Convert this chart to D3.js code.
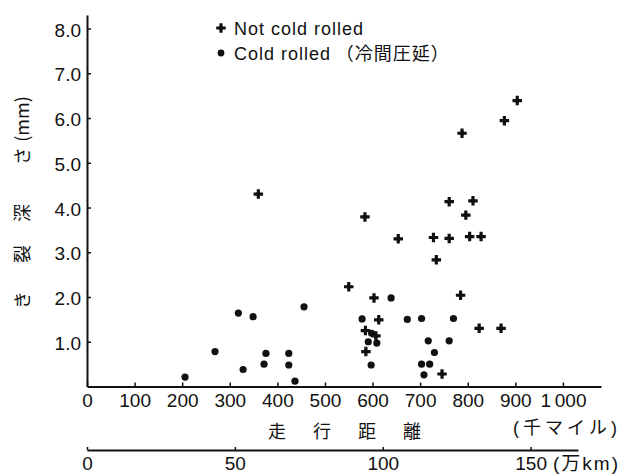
<!DOCTYPE html>
<html>
<head>
<meta charset="utf-8">
<script src="https://cdn.jsdelivr.net/npm/d3@7"></script>
<style>
  body { margin: 0; background: #fff; }
  text { fill: #111; }
</style>
</head>
<body>
<div id="chart"></div>
<script>
(function(){
	// 走行距離 (千マイル) / き裂深さ (mm)
	var notColdRolled = [
		[360, 4.30], [904, 6.39], [877, 5.94], [788, 5.66], [761, 4.13], [811, 4.15],
		[796, 3.83], [584, 3.79], [654, 3.30], [728, 3.33], [761, 3.31], [804, 3.35],
		[828, 3.35], [734, 2.83], [550, 2.23], [603, 1.98], [785, 2.04], [613, 1.49],
		[585, 1.25], [607, 1.13], [824, 1.30], [870, 1.30], [586, 0.78], [746, 0.28]
	];
	var coldRolled = [
		[206, 0.21], [269, 0.78], [318, 1.64], [328, 0.38], [349, 1.56], [372, 0.50],
		[376, 0.74], [424, 0.48], [424, 0.74], [437, 0.12], [456, 1.78], [639, 1.98],
		[578, 1.51], [673, 1.50], [703, 1.52], [770, 1.52], [598, 1.19], [591, 1.00],
		[609, 0.97], [717, 1.02], [761, 1.02], [730, 0.76], [597, 0.48], [703, 0.50],
		[720, 0.50], [708, 0.26]
	];
	var mileTicks = [0, 100, 200, 300, 400, 500, 600, 700, 800, 900, 1000];
	var kmTicks = [0, 50, 100, 150];
	var depthTicks = [1, 2, 3, 4, 5, 6, 7, 8];
	var legendLabels = ["Not cold rolled", "Cold rolled\u2009（冷間圧延）"];
	var yTitleParts = ["き", "裂", "深", "さ", "(mm)"];
	var xTitleParts = ["走", "行", "距", "離"];

	var width = 632, height = 475;
	var fontLatin = "'Liberation Sans', Arial, sans-serif";
	var fontJa = "'Noto Sans CJK JP', 'Noto Sans', sans-serif";

	var x = d3.scaleLinear().domain([0, 1080]).range([87, 601]);
	var y = d3.scaleLinear().domain([0, 8.3]).range([386.5, 15.1]);
	// 1 千マイル = 0.1609344 万km
	var km = d3.scaleLinear().domain([0, 1000 * 0.1609344]).range([x(0), x(1000)]);
	var kmLine = d3.scaleLinear().domain([0, 166]).range([km(0), km(166)]);

	var svg = d3.select("#chart").append("svg")
		.attr("width", width)
		.attr("height", height)
		.style("font-family", fontLatin);

	// x axis (千マイル)
	var gx = svg.append("g")
		.attr("transform", "translate(0," + y(0) + ")")
		.call(d3.axisBottom(x)
			.tickValues(mileTicks)
			.tickSizeInner(-4)
			.tickSizeOuter(0)
			.tickPadding(0)
			.tickFormat(function(d){ return d == 1000 ? "1\u2009000" : d; }));
	gx.select(".domain").attr("stroke", "#111").attr("stroke-width", 2);
	gx.selectAll(".tick line").attr("stroke", "#111").attr("stroke-width", 1.5);
	gx.selectAll(".tick text")
		.attr("y", 20)
		.attr("dy", 0)
		.style("font-size", "19px");

	// y axis
	var gy = svg.append("g")
		.attr("transform", "translate(" + x(0) + ",0)")
		.call(d3.axisLeft(y)
			.tickValues(depthTicks)
			.tickSizeInner(-4)
			.tickSizeOuter(0)
			.tickPadding(6)
			.tickFormat(d3.format(".1f")));
	gy.select(".domain").attr("stroke", "#111").attr("stroke-width", 2);
	gy.selectAll(".tick line").attr("stroke", "#111").attr("stroke-width", 1.5);
	gy.selectAll(".tick text")
		.attr("dy", "0.4em")
		.style("font-size", "19px");

	// second scale (万km)
	var gk = svg.append("g")
		.attr("transform", "translate(0,450)")
		.call(d3.axisBottom(kmLine)
			.tickValues(kmTicks)
			.tickSizeInner(-3)
			.tickSizeOuter(0)
			.tickPadding(0));
	gk.select(".domain").attr("stroke", "#111").attr("stroke-width", 2);
	gk.selectAll(".tick line").attr("stroke", "#111").attr("stroke-width", 1.5);
	gk.selectAll(".tick text")
		.attr("y", 20)
		.attr("dy", 0)
		.style("font-size", "19px");

	svg.append("text")
		.attr("x", 553)
		.attr("y", 470)
		.style("font-family", fontLatin + ", " + fontJa)
		.style("font-size", "19px")
		.style("letter-spacing", "2px")
		.text("(万km)");

	svg.append("text")
		.attr("x", 513)
		.attr("y", 434)
		.style("font-family", fontLatin + ", " + fontJa)
		.style("font-size", "18px")
		.style("letter-spacing", "4px")
		.text("(千マイル)");

	// x title
	svg.selectAll(".xtitle")
		.data(xTitleParts)
		.enter().append("text")
		.attr("class", "xtitle")
		.attr("x", function(d, i){ return 277 + i * 45; })
		.attr("y", 438)
		.attr("text-anchor", "middle")
		.style("font-family", fontJa)
		.style("font-size", "18px")
		.text(function(d){ return d; });

	// y title, rotated
	var yPos = [300, 254, 213, 156, 119];
	var gt = svg.append("g").attr("transform", "translate(23,0) rotate(-90)");
	gt.selectAll("text")
		.data(yTitleParts)
		.enter().append("text")
		.attr("x", function(d, i){ return -yPos[i]; })
		.attr("y", 0)
		.attr("dy", "0.35em")
		.attr("text-anchor", "middle")
		.style("font-family", fontJa)
		.style("font-size", "18px")
		.text(function(d){ return d; });

	var crossSym = d3.symbol().type(d3.symbolCross).size(50);
	var diamondSym = d3.symbol().type(d3.symbolDiamond).size(22);

	function drawPlus(sel) {
		sel.append("path").attr("d", crossSym).attr("fill", "#111");
		sel.append("path").attr("d", diamondSym).attr("fill", "#111");
	}

	// data
	svg.append("g")
		.selectAll("circle")
		.data(coldRolled)
		.enter().append("circle")
		.attr("cx", function(d){ return x(d[0]); })
		.attr("cy", function(d){ return y(d[1]); })
		.attr("r", 3.6)
		.attr("fill", "#111");

	svg.append("g")
		.selectAll("g")
		.data(notColdRolled)
		.enter().append("g")
		.attr("transform", function(d){ return "translate(" + x(d[0]) + "," + y(d[1]) + ")"; })
		.call(drawPlus);

	// legend
	var lg = svg.append("g");
	lg.append("g").attr("transform", "translate(221,28)").call(drawPlus);
	lg.append("circle").attr("cx", 221).attr("cy", 53).attr("r", 3.4).attr("fill", "#111");
	lg.selectAll("text")
		.data(legendLabels)
		.enter().append("text")
		.attr("x", 234)
		.attr("y", function(d, i){ return 35 + i * 25; })
		.style("font-family", fontLatin + ", " + fontJa)
		.style("font-size", "18px")
		.style("letter-spacing", "1px")
		.text(function(d){ return d; });
})();
</script>
</body>
</html>
